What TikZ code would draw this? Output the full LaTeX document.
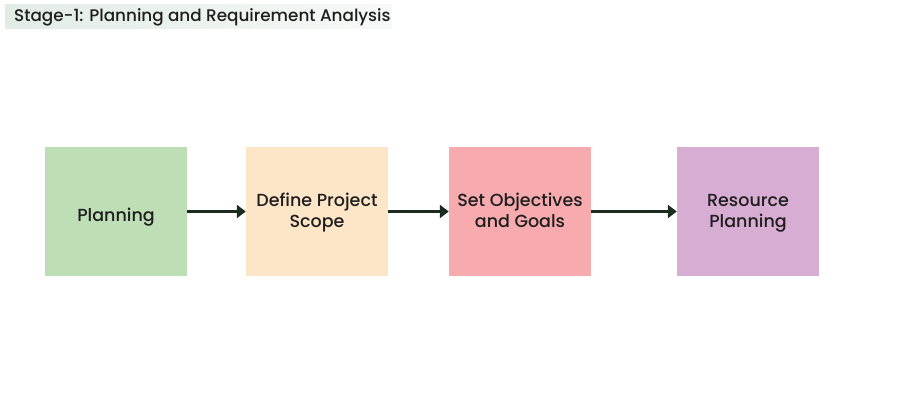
\documentclass[tikz,border=0pt]{standalone}
\usepackage{fontspec}
\setmainfont{Poppins}[UprightFont=* Medium]
\usetikzlibrary{arrows.meta}
\definecolor{bgreen}{HTML}{BEDFB6}
\definecolor{bpeach}{HTML}{FDE5C8}
\definecolor{bpink}{HTML}{F7ABAF}
\definecolor{bpurple}{HTML}{D8ADD3}
\definecolor{arr}{HTML}{1B2B1F}
\definecolor{band}{HTML}{E2ECE6}
\definecolor{txt}{HTML}{1E1E1E}
\newcommand{\twolines}[2]{\raisebox{4.5pt}[0pt][0pt]{\begin{tabular}[t]{@{}c@{}}#1\\#2\end{tabular}}}
\newcommand{\oneline}[1]{\raisebox{-10pt}[0pt][0pt]{#1}}
\begin{document}
\begin{tikzpicture}[x=1pt,y=-1pt,
  stepbox/.style={minimum width=142pt,minimum height=129pt,inner sep=0pt,align=center,font=\fontsize{17.5}{21}\selectfont,text=txt},
  conn/.style={draw=arr,line width=3pt,-{Triangle[length=9pt,width=13pt]}}]
\useasboundingbox (0,0) rectangle (898,414);
\fill[white] (0,0) rectangle (898,414);
\shade[left color=band,right color=band!30!white] (5,5) rectangle (392,29);
\node[anchor=base west,inner sep=0pt,font=\fontsize{16.8}{18}\selectfont,text=txt] (title) at (14,22) {Stage-1: Planning and Requirement Analysis};
\node[stepbox,fill=bgreen] (a) at (116,211.5) {\oneline{Planning}};
\node[stepbox,fill=bpeach] (b) at (317,211.5) {\twolines{Define Project}{Scope}};
\node[stepbox,fill=bpink] (c) at (520,211.5) {\twolines{Set Objectives}{and Goals}};
\node[stepbox,fill=bpurple] (d) at (748,211.5) {\twolines{Resource}{Planning}};
\draw[conn] (a) -- (b);
\draw[conn] (b) -- (c);
\draw[conn] (c) -- (d);
\end{tikzpicture}
\end{document}
